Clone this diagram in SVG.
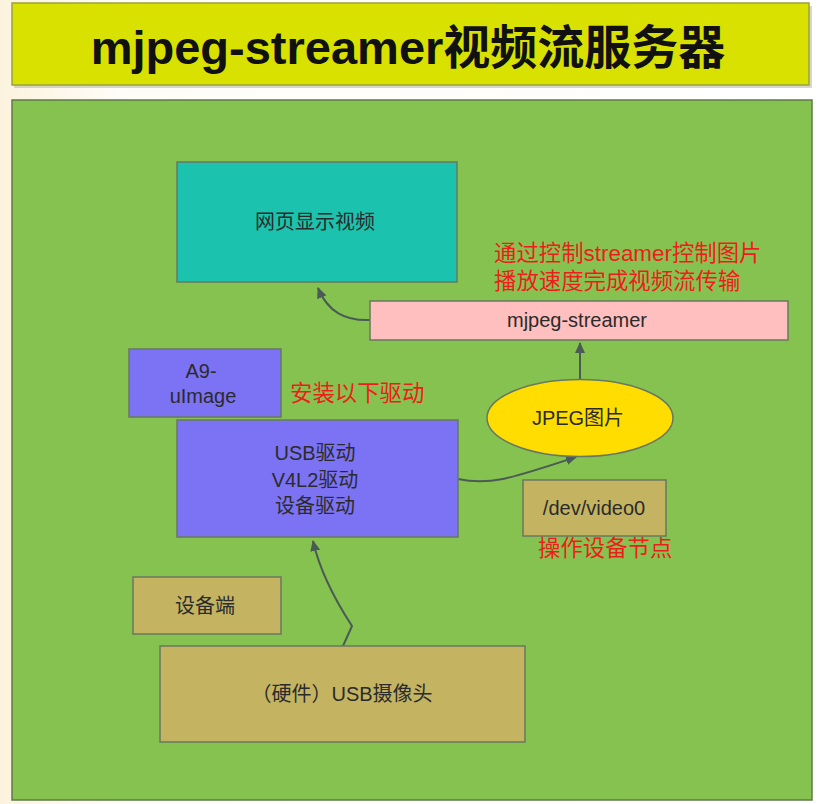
<svg xmlns="http://www.w3.org/2000/svg" width="818" height="804" viewBox="0 0 818 804">
<defs>
<linearGradient id="bg" x1="0" y1="0" x2="1" y2="0">
<stop offset="0" stop-color="#fcf3de"/>
<stop offset="0.15" stop-color="#fffdf8"/>
<stop offset="1" stop-color="#ffffff"/>
</linearGradient>
<marker id="arr" markerWidth="12" markerHeight="10" refX="10" refY="5" orient="auto" markerUnits="userSpaceOnUse">
<path d="M0,0 L11,5 L0,10 Z" fill="#4a5a55"/>
</marker>
</defs>
<style>
text{font-family:"Liberation Sans","Noto Sans CJK SC",sans-serif;}
.box{stroke:#687860;stroke-width:1.5;}
.lbl{font-size:20px;fill:#2b2b2b;text-anchor:middle;dominant-baseline:central;}
.red{font-size:22.4px;fill:#f01c1c;}
.con{fill:none;stroke:#4a5a55;stroke-width:2;marker-end:url(#arr);}
</style>
<rect x="0" y="0" width="818" height="804" fill="url(#bg)"/>
<g id="title">
<rect x="14" y="6" width="798" height="82" fill="#b0b0a0" opacity="0.5"/>
<rect x="12" y="3" width="797" height="82" fill="#d8e100" stroke="#9aa23a" stroke-width="1.5"/>
<text x="408" y="64" font-size="47" font-weight="bold" fill="#111" text-anchor="middle">mjpeg-streamer视频流服务器</text>
</g>
<g id="panel">
<rect x="12" y="100" width="800" height="700" fill="#86c24f" stroke="#5f7a48" stroke-width="1.5"/>
</g>
<g id="connectors">
<path class="con" d="M370,320 C345,321 328,312 318,288"/>
<path class="con" d="M580,380 L580,343"/>
<path class="con" d="M458,479 C490,486 512,478 576,457"/>
<path class="con" d="M343,646 L352,626 Q322,580 313,541"/>
</g>
<g id="web">
<rect class="box" x="177" y="162" width="280" height="120" fill="#1bc2ad"/>
<text class="lbl" x="315" y="222" fill="#1e3434">网页显示视频</text>
</g>
<g id="streamer">
<rect class="box" x="370" y="301" width="418" height="39" fill="#ffbfbf"/>
<text class="lbl" x="577" y="320" font-size="19">mjpeg-streamer</text>
</g>
<g id="note1">
<text class="red" x="494" y="261">通过控制streamer控制图片</text>
<text class="red" x="494" y="289">播放速度完成视频流传输</text>
</g>
<g id="a9">
<rect class="box" x="129" y="349" width="152" height="68" fill="#7b72f4"/>
<text class="lbl" x="201" y="371" font-size="19">A9-</text>
<text class="lbl" x="203" y="396" font-size="19">uImage</text>
</g>
<g id="note2">
<text class="red" x="290" y="401">安装以下驱动</text>
</g>
<g id="drivers">
<rect class="box" x="177" y="420" width="281" height="117" fill="#7b72f4"/>
<text class="lbl" x="315" y="453">USB驱动</text>
<text class="lbl" x="315" y="480">V4L2驱动</text>
<text class="lbl" x="315" y="506">设备驱动</text>
</g>
<g id="jpeg">
<ellipse class="box" cx="580" cy="418" rx="93" ry="38.5" fill="#ffdd00" stroke="#a89a30"/>
<text class="lbl" x="578" y="418">JPEG图片</text>
</g>
<g id="video0">
<rect class="box" x="523" y="480" width="143" height="56" fill="#c4b462"/>
<text class="lbl" x="594" y="508">/dev/video0</text>
</g>
<g id="note3">
<text class="red" x="538" y="556">操作设备节点</text>
</g>
<g id="device">
<rect class="box" x="133" y="577" width="148" height="57" fill="#c4b462"/>
<text class="lbl" x="205" y="606">设备端</text>
</g>
<g id="camera">
<rect class="box" x="160" y="646" width="365" height="96" fill="#c4b462"/>
<text class="lbl" x="342" y="694">（硬件）USB摄像头</text>
</g>
</svg>
